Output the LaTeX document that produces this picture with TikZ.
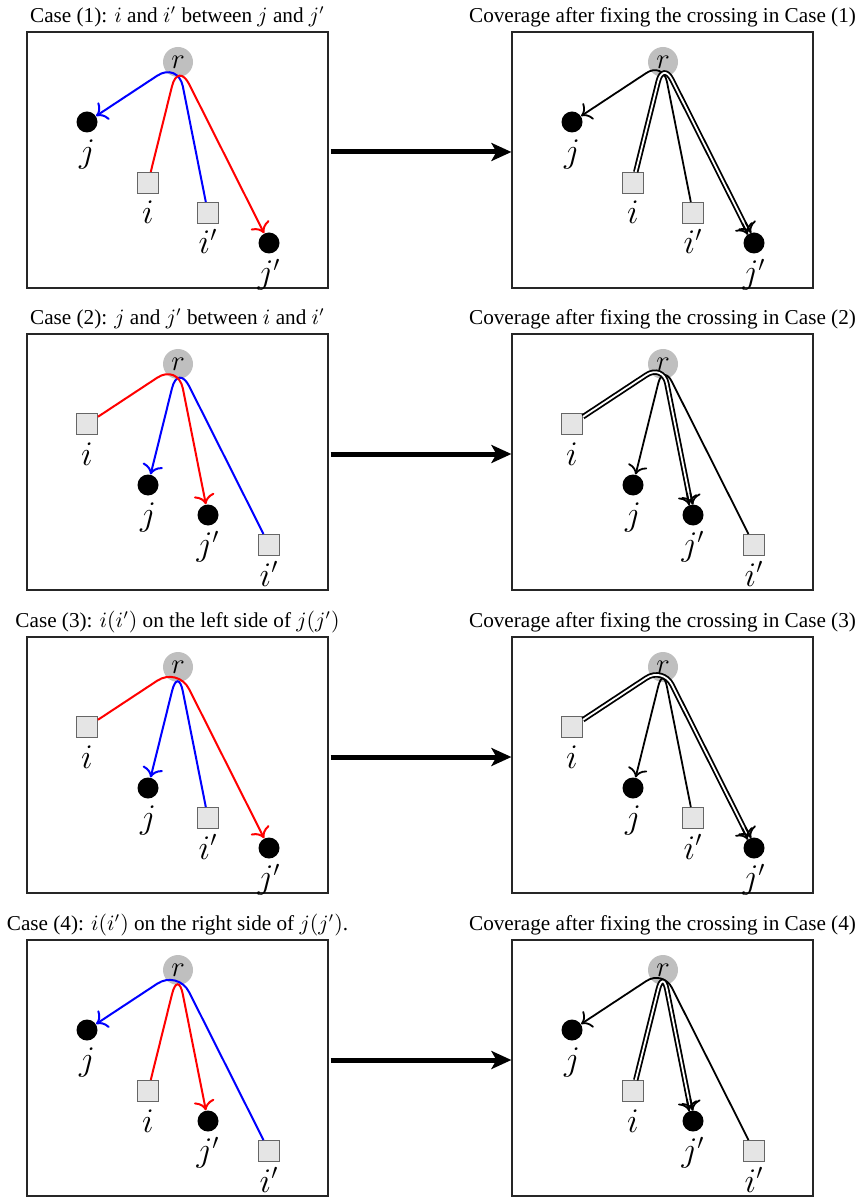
\documentclass[tikz,border=0pt]{standalone}
\usepackage{fontspec}
\setmainfont{Liberation Serif}
\usetikzlibrary{arrows.meta,calc}
\tikzset{
  panelbox/.style={draw=black!85, line width=0.6pt, minimum width=150.5pt, minimum height=128pt, inner sep=0pt},
  rootnode/.style={circle, fill=black!25, minimum size=15pt, inner sep=0pt, font=\fontsize{15}{15}\selectfont},
  client/.style={circle, fill=black, minimum size=10.5pt, inner sep=0pt},
  facility/.style={rectangle, draw=black!60, fill=black!10, line width=0.5pt, minimum size=10.5pt, inner sep=0pt},
  lbl/.style={inner sep=0pt, anchor=base, yshift=-15pt, font=\fontsize{16}{16}\selectfont},
  captionstyle/.style={anchor=base, inner sep=0pt, font=\fontsize{10.6}{12}\selectfont},
  leftone/.style={draw=blue, line width=1pt, rounded corners=12.5pt, -{To[scale=1.3]}},
  lefttwo/.style={draw=red, line width=1pt, rounded corners=12.5pt, -{To[scale=1.3]}},
  rightone/.style={draw=black, line width=0.9pt, rounded corners=10pt, -{To[scale=1.3]}},
  righttwo/.style={draw=black, line width=0.9pt, double=white, double distance=0.9pt, rounded corners=10pt},
  tipstub/.style={draw=black, line width=0.9pt, -{To[scale=1.3]}},
  bigarrow/.style={draw=black, line width=2.5pt, -{Stealth[length=10pt, width=9pt, inset=2.5pt]}},
}
% #1 prefix, #2 x origin, #3 y origin, #4 j, #5 i, #6 j', #7 i'
\newcommand\placenodes[7]{%
  \begin{scope}[shift={(#2,#3)}]
    \node[panelbox] (#1box) at (150.5,128) {};
    \node[rootnode] (#1r) at (151,30) {$r$};
    \node[client, label={[lbl]below:$j$}] (#1j) at #4 {};
    \node[facility, label={[lbl]below:$i$}] (#1i) at #5 {};
    \node[client, label={[lbl]below:$j'$}] (#1jp) at #6 {};
    \node[facility, label={[lbl]below:$i'$}] (#1ip) at #7 {};
  \end{scope}}
\newcommand\leftpanel[7]{%
  \placenodes{#1}{#2}{#3}{#4}{#5}{#6}{#7}
  \draw[leftone] (#1ip) -- (#1r.center) -- (#1j);
  \draw[lefttwo] (#1i) -- (#1r.center) -- (#1jp);}
\newcommand\rightpanel[7]{%
  \placenodes{#1}{#2}{#3}{#4}{#5}{#6}{#7}
  \draw[rightone] (#1ip) -- (#1r.center) -- (#1j);
  \coordinate (#1E) at ($(#1jp)!5.25pt!(#1r)$);
  \coordinate (#1Ea) at ($(#1E)!0.9pt!90:(#1r)$);
  \coordinate (#1Eb) at ($(#1E)!0.9pt!-90:(#1r)$);
  \draw[righttwo] (#1i) -- (#1r.center) -- (#1E);
  \draw[tipstub] ($(#1Ea)!6pt!(#1r)$) -- (#1Ea);
  \draw[tipstub] ($(#1Eb)!6pt!(#1r)$) -- (#1Eb);}
\begin{document}
\begin{tikzpicture}[x=0.5pt,y=-0.5pt]
  \useasboundingbox (0,0) rectangle (860,1197);
  % Row 1
  \leftpanel{La}{27}{32}{(60,90)}{(121,151)}{(242,211)}{(181,181)}
  \rightpanel{Ra}{512}{32}{(60,90)}{(121,151)}{(242,211)}{(181,181)}
  \node[captionstyle] (capLa) at (177.5,22.5) {Case (1): $i$ and $i'$ between $j$ and $j'$};
  \node[captionstyle] (capRa) at (662.5,22.5) {Coverage after fixing the crossing in Case (1)};
  \draw[bigarrow] ([xshift=1pt,yshift=4pt]Labox.east) -- ([yshift=4pt]Rabox.west);
  % Row 2
  \leftpanel{Lb}{27}{334}{(121,151)}{(60,90)}{(181,181)}{(242,211)}
  \rightpanel{Rb}{512}{334}{(121,151)}{(60,90)}{(181,181)}{(242,211)}
  \node[captionstyle] (capLb) at (177.5,324.5) {Case (2): $j$ and $j'$ between $i$ and $i'$};
  \node[captionstyle] (capRb) at (662.5,324.5) {Coverage after fixing the crossing in Case (2)};
  \draw[bigarrow] ([xshift=1pt,yshift=4pt]Lbbox.east) -- ([yshift=4pt]Rbbox.west);
  % Row 3
  \leftpanel{Lc}{27}{637}{(121,151)}{(60,90)}{(242,211)}{(181,181)}
  \rightpanel{Rc}{512}{637}{(121,151)}{(60,90)}{(242,211)}{(181,181)}
  \node[captionstyle] (capLc) at (177.5,627.5) {Case (3): $i(i')$ on the left side of $j(j')$};
  \node[captionstyle] (capRc) at (662.5,627.5) {Coverage after fixing the crossing in Case (3)};
  \draw[bigarrow] ([xshift=1pt,yshift=4pt]Lcbox.east) -- ([yshift=4pt]Rcbox.west);
  % Row 4
  \leftpanel{Ld}{27}{940}{(60,90)}{(121,151)}{(181,181)}{(242,211)}
  \rightpanel{Rd}{512}{940}{(60,90)}{(121,151)}{(181,181)}{(242,211)}
  \node[captionstyle] (capLd) at (177.5,930.5) {Case (4): $i(i')$ on the right side of $j(j')$.};
  \node[captionstyle] (capRd) at (662.5,930.5) {Coverage after fixing the crossing in Case (4)};
  \draw[bigarrow] ([xshift=1pt,yshift=4pt]Ldbox.east) -- ([yshift=4pt]Rdbox.west);
\end{tikzpicture}
\end{document}
